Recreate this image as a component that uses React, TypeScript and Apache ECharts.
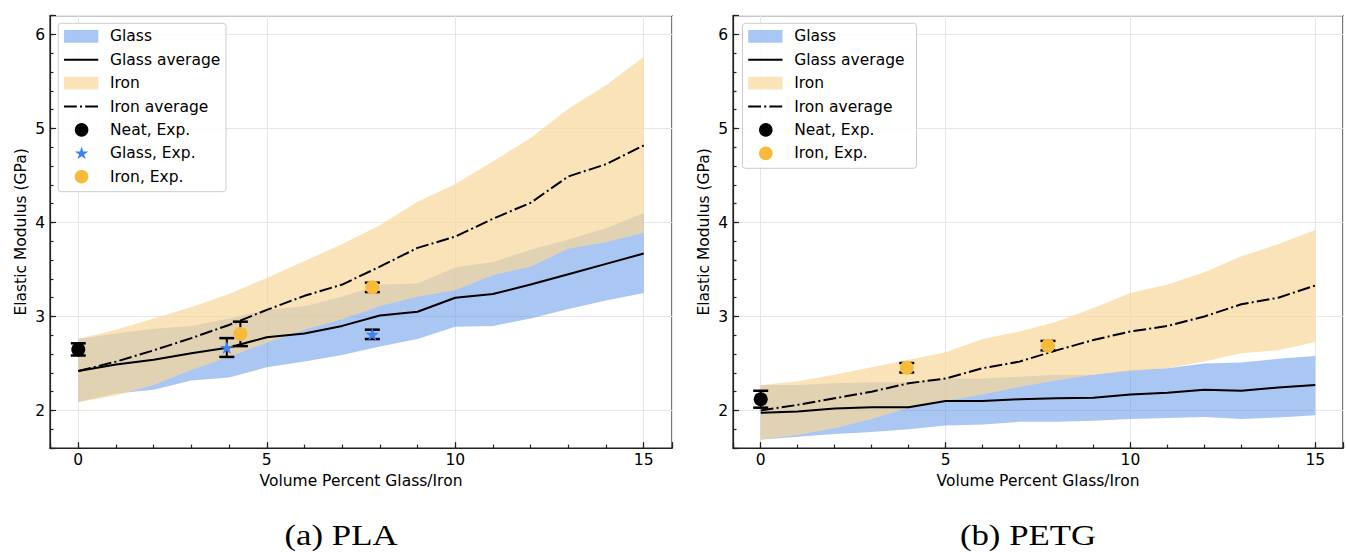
import { useEffect, useRef } from 'react';
import * as echarts from 'echarts';

// ---------------- data ----------------
const X = [0, 1, 2, 3, 4, 5, 6, 7, 8, 9, 10, 11, 12, 13, 14, 15];
const X_TICKS = [0, 5, 10, 15];
const Y_TICKS = [2, 3, 4, 5, 6];

// PLA
const PLA_GLASS_AVG = [2.42, 2.49, 2.54, 2.61, 2.67, 2.78, 2.82, 2.9, 3.01, 3.05, 3.2, 3.24, 3.34, 3.45, 3.56, 3.67];
const PLA_GLASS_LOW = [2.09, 2.18, 2.22, 2.32, 2.35, 2.46, 2.52, 2.59, 2.68, 2.76, 2.89, 2.9, 2.98, 3.08, 3.17, 3.25];
const PLA_GLASS_HIGH = [2.76, 2.82, 2.87, 2.9, 2.98, 3.07, 3.11, 3.21, 3.34, 3.35, 3.52, 3.58, 3.71, 3.82, 3.94, 4.1];
const PLA_IRON_AVG = [2.42, 2.52, 2.64, 2.77, 2.91, 3.07, 3.22, 3.34, 3.53, 3.73, 3.85, 4.04, 4.21, 4.49, 4.62, 4.82];
const PLA_IRON_LOW = [2.09, 2.16, 2.27, 2.43, 2.57, 2.72, 2.86, 2.97, 3.11, 3.21, 3.28, 3.44, 3.53, 3.72, 3.79, 3.89];
const PLA_IRON_HIGH = [2.76, 2.86, 2.98, 3.1, 3.24, 3.41, 3.59, 3.77, 3.97, 4.22, 4.41, 4.65, 4.9, 5.21, 5.46, 5.76];
const PLA_NEAT_X = [0];
const PLA_NEAT_Y = [2.65];
const PLA_NEAT_ERR = [0.065];
const PLA_GLASS_EXP_X = [3.94, 7.8];
const PLA_GLASS_EXP_Y = [2.67, 2.81];
const PLA_GLASS_EXP_ERR = [0.1, 0.05];
const PLA_IRON_EXP_X = [4.3, 7.8];
const PLA_IRON_EXP_Y = [2.815, 3.31];
const PLA_IRON_EXP_ERR = [0.13, 0.05];

// PETG
const PETG_GLASS_AVG = [1.975, 1.99, 2.02, 2.035, 2.035, 2.1, 2.1, 2.12, 2.13, 2.135, 2.17, 2.19, 2.22, 2.21, 2.245, 2.27];
const PETG_GLASS_LOW = [1.69, 1.72, 1.75, 1.77, 1.8, 1.84, 1.85, 1.88, 1.88, 1.89, 1.91, 1.92, 1.93, 1.91, 1.925, 1.95];
const PETG_GLASS_HIGH = [2.27, 2.27, 2.29, 2.3, 2.3, 2.34, 2.34, 2.36, 2.38, 2.38, 2.43, 2.45, 2.5, 2.51, 2.55, 2.58];
const PETG_IRON_AVG = [2.0, 2.06, 2.13, 2.2, 2.29, 2.34, 2.45, 2.52, 2.64, 2.75, 2.84, 2.9, 3.0, 3.13, 3.2, 3.33];
const PETG_IRON_LOW = [1.69, 1.74, 1.81, 1.91, 2.03, 2.1, 2.17, 2.25, 2.32, 2.38, 2.42, 2.45, 2.52, 2.61, 2.64, 2.73];
const PETG_IRON_HIGH = [2.27, 2.31, 2.38, 2.46, 2.54, 2.62, 2.76, 2.84, 2.945, 3.09, 3.25, 3.34, 3.47, 3.64, 3.77, 3.92];
const PETG_NEAT_X = [0];
const PETG_NEAT_Y = [2.12];
const PETG_NEAT_ERR = [0.09];
const PETG_IRON_EXP_X = [3.95, 7.77];
const PETG_IRON_EXP_Y = [2.455, 2.69];
const PETG_IRON_EXP_ERR = [0.05, 0.05];

const LEGEND_PLA = ['Glass', 'Glass average', 'Iron', 'Iron average', 'Neat, Exp.', 'Glass, Exp.', 'Iron, Exp.'];
const LEGEND_PETG = ['Glass', 'Glass average', 'Iron', 'Iron average', 'Neat, Exp.', 'Iron, Exp.'];
const CAPTIONS = ['(a) PLA', '(b) PETG'];
const X_NAME = 'Volume Percent Glass/Iron';
const Y_NAME = 'Elastic Modulus (GPa)';

// ---------------- styles ----------------
const FONT = 'DejaVu Sans';
const FS = 15.5;
const GLASS_FILL = '#558de5';
const GLASS_OP = 0.5;
const IRON_FILL = '#f8d79a';
const IRON_OP = 0.7;
const STAR_COLOR = '#3f83ee';
const ORANGE = '#f7ba3b';
const AXIS_COLOR = '#222';
const DASHDOT = [12.8, 3.2, 2, 3.2];
const LZ = 100;

function starPoints(cx: number, cy: number, R: number): number[][] {
  const pts: number[][] = [];
  for (let k = 0; k < 10; k++) {
    const r = k % 2 === 0 ? R : R * 0.382;
    const a = -Math.PI / 2 + (k * Math.PI) / 5;
    pts.push([cx + r * Math.cos(a), cy + r * Math.sin(a)]);
  }
  return pts;
}
const STAR_PATH =
  'path://M' + starPoints(0, 0, 10).map((p) => p[0].toFixed(3) + ',' + p[1].toFixed(3)).join('L') + 'Z';

function isTick(v: number, ticks: number[]) {
  return ticks.some((t) => Math.abs(t - v) < 1e-6);
}

function makeAxes(p: number) {
  const lineStyle = { color: AXIS_COLOR, width: 1.2 };
  const xMain = {
    gridIndex: p,
    type: 'value',
    position: 'bottom',
    min: -0.75,
    max: 15.75,
    splitNumber: 3,
    minInterval: 5,
    maxInterval: 5,
    axisLine: { show: true, onZero: false, lineStyle },
    axisTick: { show: true, inside: true, length: 6, lineStyle },
    axisLabel: {
      show: true,
      margin: 4,
      color: '#000',
      fontSize: FS,
      fontFamily: FONT,
      formatter: (v: number) => (isTick(v, X_TICKS) ? String(Math.round(v)) : ''),
    },
    splitLine: { show: true, lineStyle: { color: '#e6e6e6', width: 1 } },
    name: X_NAME,
    nameLocation: 'middle',
    nameGap: 25,
    nameTextStyle: { color: '#000', fontSize: FS, fontFamily: FONT },
  };
  const xMinor = {
    gridIndex: p,
    type: 'value',
    position: 'bottom',
    min: -0.75,
    max: 15.75,
    splitNumber: 16,
    minInterval: 1,
    maxInterval: 1,
    axisLine: { show: false, onZero: false },
    axisTick: { show: true, inside: true, length: 3.5, lineStyle },
    axisLabel: { show: false },
    splitLine: { show: false },
  };
  const yMain = {
    gridIndex: p,
    type: 'value',
    position: 'left',
    min: 1.6,
    max: 6.2,
    splitNumber: 5,
    minInterval: 1,
    maxInterval: 1,
    axisLine: { show: true, onZero: false, lineStyle },
    axisTick: { show: true, inside: true, length: 6, lineStyle },
    axisLabel: {
      show: true,
      margin: 5,
      color: '#000',
      fontSize: FS,
      fontFamily: FONT,
      formatter: (v: number) => (isTick(v, Y_TICKS) ? String(Math.round(v)) : ''),
    },
    splitLine: { show: true, lineStyle: { color: '#e6e6e6', width: 1 } },
    name: Y_NAME,
    nameLocation: 'middle',
    nameGap: 21,
    nameTextStyle: { color: '#000', fontSize: FS, fontFamily: FONT },
  };
  const yMinor = {
    gridIndex: p,
    type: 'value',
    position: 'left',
    min: 1.6,
    max: 6.2,
    splitNumber: 23,
    minInterval: 0.2,
    maxInterval: 0.2,
    axisLine: { show: false, onZero: false },
    axisTick: { show: true, inside: true, length: 3.5, lineStyle },
    axisLabel: { show: false },
    splitLine: { show: false },
  };
  return { x: [xMain, xMinor], y: [yMain, yMinor] };
}

function bandSeries(ax: number, lo: number[], hi: number[], fill: string, op: number, z: number) {
  return {
    type: 'custom',
    xAxisIndex: ax,
    yAxisIndex: ax,
    silent: true,
    z,
    data: X.map((x, i) => [x, lo[i], hi[i]]),
    encode: { x: 0, y: [1, 2] },
    renderItem: (params: any, api: any) => {
      if (params.dataIndex !== 0) return null;
      const pts: number[][] = [];
      for (let i = 0; i < X.length; i++) pts.push(api.coord([X[i], hi[i]]));
      for (let i = X.length - 1; i >= 0; i--) pts.push(api.coord([X[i], lo[i]]));
      return { type: 'polygon', shape: { points: pts }, style: { fill, opacity: op } };
    },
  };
}

function lineSeries(ax: number, ys: number[], type: any) {
  return {
    type: 'line',
    xAxisIndex: ax,
    yAxisIndex: ax,
    silent: true,
    z: 4,
    symbol: 'none',
    showSymbol: false,
    data: X.map((x, i) => [x, ys[i]]),
    lineStyle: { color: '#000', width: 2, type },
  };
}

function errorSeries(ax: number, xs: number[], ys: number[], es: number[]) {
  return {
    type: 'custom',
    xAxisIndex: ax,
    yAxisIndex: ax,
    silent: true,
    z: 5,
    data: xs.map((x, i) => [x, ys[i], es[i]]),
    encode: { x: 0, y: 1 },
    renderItem: (params: any, api: any) => {
      const x = api.value(0);
      const y = api.value(1);
      const e = api.value(2);
      const top = api.coord([x, y + e]);
      const bot = api.coord([x, y - e]);
      const hw = 7.5;
      const st = { stroke: '#000', lineWidth: 2.5 };
      return {
        type: 'group',
        children: [
          { type: 'line', shape: { x1: top[0], y1: top[1], x2: bot[0], y2: bot[1] }, style: { stroke: '#000', lineWidth: 2 } },
          { type: 'line', shape: { x1: top[0] - hw, y1: top[1], x2: top[0] + hw, y2: top[1] }, style: st },
          { type: 'line', shape: { x1: bot[0] - hw, y1: bot[1], x2: bot[0] + hw, y2: bot[1] }, style: st },
        ],
      };
    },
  };
}

function scatterSeries(ax: number, xs: number[], ys: number[], symbol: string, size: any, color: string) {
  return {
    type: 'scatter',
    xAxisIndex: ax,
    yAxisIndex: ax,
    silent: true,
    z: 6,
    symbol,
    symbolSize: size,
    data: xs.map((x, i) => [x, ys[i]]),
    itemStyle: { color, opacity: 1 },
  };
}

function legendGraphic(bx: number, by: number, bw: number, bh: number, labels: string[]) {
  const children: any[] = [
    {
      type: 'rect',
      z: LZ,
      shape: { x: bx, y: by, width: bw, height: bh, r: 3 },
      style: { fill: 'rgba(255,255,255,0.85)', stroke: '#cccccc', lineWidth: 1 },
    },
  ];
  const x0 = bx + 5.7;
  const x1 = bx + 40;
  const mx = bx + 23.3;
  const tx = bx + 51.7;
  labels.forEach((label, k) => {
    const cy = by + 13 + 23.4 * k;
    if (label === 'Glass') {
      children.push({ type: 'rect', z: LZ + 1, shape: { x: x0, y: cy - 6.3, width: x1 - x0, height: 12.7 }, style: { fill: GLASS_FILL, opacity: GLASS_OP } });
    } else if (label === 'Iron') {
      children.push({ type: 'rect', z: LZ + 1, shape: { x: x0, y: cy - 6.3, width: x1 - x0, height: 12.7 }, style: { fill: IRON_FILL, opacity: IRON_OP } });
    } else if (label === 'Glass average') {
      children.push({ type: 'line', z: LZ + 1, shape: { x1: x0, y1: cy, x2: x1, y2: cy }, style: { stroke: '#000', lineWidth: 2 } });
    } else if (label === 'Iron average') {
      children.push({ type: 'line', z: LZ + 1, shape: { x1: x0, y1: cy, x2: x1, y2: cy }, style: { stroke: '#000', lineWidth: 2, lineDash: DASHDOT } });
    } else if (label === 'Neat, Exp.') {
      children.push({ type: 'circle', z: LZ + 1, shape: { cx: mx, cy, r: 6.8 }, style: { fill: '#000' } });
    } else if (label === 'Glass, Exp.') {
      children.push({ type: 'polygon', z: LZ + 1, shape: { points: starPoints(mx, cy + 0.3, 7.0) }, style: { fill: STAR_COLOR } });
    } else if (label === 'Iron, Exp.') {
      children.push({ type: 'circle', z: LZ + 1, shape: { cx: mx, cy, r: 6.8 }, style: { fill: ORANGE } });
    }
    children.push({
      type: 'text',
      z: LZ + 1,
      style: { text: label, x: tx, y: cy, fontSize: FS, fontFamily: FONT, fill: '#000', verticalAlign: 'middle', align: 'left' },
    });
  });
  return { type: 'group', z: LZ, silent: true, children };
}

function captionGraphic(cx: number, text: string) {
  return {
    type: 'group',
    x: cx,
    y: 535,
    scaleX: 1.16,
    z: LZ,
    silent: true,
    children: [
      {
        type: 'text',
        z: LZ,
        style: { text, x: 0, y: 0, fontSize: 30, fontFamily: 'Liberation Serif', fill: '#000', align: 'center', verticalAlign: 'middle' },
      },
    ],
  };
}

function buildOption() {
  const a0 = makeAxes(0);
  const a1 = makeAxes(1);
  const gridBase = { top: 15.7, height: 432.4, width: 622, show: true, borderColor: AXIS_COLOR, borderWidth: 1.2, backgroundColor: 'transparent', containLabel: false };
  const series: any[] = [
    // PLA (axes 0)
    bandSeries(0, PLA_GLASS_LOW, PLA_GLASS_HIGH, GLASS_FILL, GLASS_OP, 1),
    bandSeries(0, PLA_IRON_LOW, PLA_IRON_HIGH, IRON_FILL, IRON_OP, 2),
    lineSeries(0, PLA_GLASS_AVG, 'solid'),
    lineSeries(0, PLA_IRON_AVG, DASHDOT),
    errorSeries(0, PLA_NEAT_X, PLA_NEAT_Y, PLA_NEAT_ERR),
    errorSeries(0, PLA_GLASS_EXP_X, PLA_GLASS_EXP_Y, PLA_GLASS_EXP_ERR),
    errorSeries(0, PLA_IRON_EXP_X, PLA_IRON_EXP_Y, PLA_IRON_EXP_ERR),
    scatterSeries(0, PLA_NEAT_X, PLA_NEAT_Y, 'circle', 14, '#000'),
    scatterSeries(0, PLA_GLASS_EXP_X, PLA_GLASS_EXP_Y, STAR_PATH, [13.5, 13], STAR_COLOR),
    scatterSeries(0, PLA_IRON_EXP_X, PLA_IRON_EXP_Y, 'circle', 14, ORANGE),
    // PETG (axes 2)
    bandSeries(2, PETG_GLASS_LOW, PETG_GLASS_HIGH, GLASS_FILL, GLASS_OP, 1),
    bandSeries(2, PETG_IRON_LOW, PETG_IRON_HIGH, IRON_FILL, IRON_OP, 2),
    lineSeries(2, PETG_GLASS_AVG, 'solid'),
    lineSeries(2, PETG_IRON_AVG, DASHDOT),
    errorSeries(2, PETG_NEAT_X, PETG_NEAT_Y, PETG_NEAT_ERR),
    errorSeries(2, PETG_IRON_EXP_X, PETG_IRON_EXP_Y, PETG_IRON_EXP_ERR),
    scatterSeries(2, PETG_NEAT_X, PETG_NEAT_Y, 'circle', 14, '#000'),
    scatterSeries(2, PETG_IRON_EXP_X, PETG_IRON_EXP_Y, 'circle', 14, ORANGE),
  ];
  return {
    animation: false,
    backgroundColor: '#fff',
    textStyle: { fontFamily: FONT },
    grid: [
      { ...gridBase, left: 50 },
      { ...gridBase, left: 733 },
    ],
    xAxis: [...a0.x, ...a1.x],
    yAxis: [...a0.y, ...a1.y],
    series,
    graphic: {
      elements: [
        legendGraphic(58.3, 23.3, 167.7, 168.4, LEGEND_PLA),
        legendGraphic(742.5, 23.3, 174, 145, LEGEND_PETG),
        captionGraphic(341, CAPTIONS[0]),
        captionGraphic(1028, CAPTIONS[1]),
      ],
    },
  };
}

export default function App() {
  const ref = useRef<HTMLDivElement>(null);
  useEffect(() => {
    if (!ref.current) return;
    const chart = echarts.init(ref.current, null, { renderer: 'svg' });
    chart.setOption(buildOption() as any);
    return () => chart.dispose();
  }, []);
  return (
    <div
      ref={ref}
      style={{ position: 'fixed', left: 0, top: 0, width: 1346, height: 552, background: '#fff' }}
    />
  );
}
